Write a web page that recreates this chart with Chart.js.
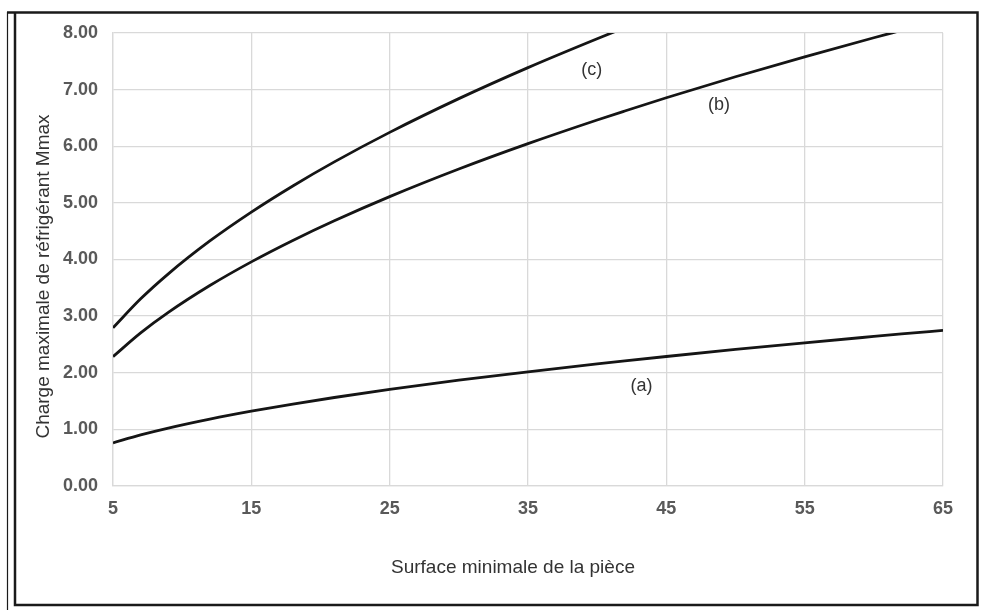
<!DOCTYPE html>
<html>
<head>
<meta charset="utf-8">
<script src="https://cdn.jsdelivr.net/npm/chart.js@4.4.1/dist/chart.umd.min.js"></script>
<style>
  html, body { margin: 0; padding: 0; background: #ffffff; }
  #wrap { width: 981px; height: 610px; position: relative; }
</style>
</head>
<body>
<div id="wrap"><canvas id="c"></canvas></div>
<script>
// Surface minimale de la pièce (x values)
const surfaces = [5, 7, 9, 12, 15, 18, 21, 25, 30, 35, 40, 42, 45, 50, 55, 60, 62, 65];
// Curve (a)
const seriesA = [0.762, 0.902, 1.023, 1.181, 1.321, 1.447, 1.563, 1.705, 1.868, 2.017, 2.157, 2.210, 2.287, 2.411, 2.529, 2.641, 2.685, 2.749];
// Curve (b)
const seriesB = [2.285, 2.704, 3.066, 3.540, 3.958, 4.336, 4.683, 5.110, 5.598, 6.046, 6.464, 6.623, 6.856, 7.227, 7.579, 7.916, 8.047, null];
// Curve (c)
const seriesC = [2.793, 3.305, 3.747, 4.327, 4.837, 5.299, 5.724, 6.245, 6.841, 7.389, 7.899, 8.095, null, null, null, null, null, null];
// Curve labels and their positions (data coordinates)
const curveLabels = ['(a)', '(b)', '(c)'];
const labelX = [43.2, 48.8, 39.6];
const labelY = [1.77, 6.73, 7.34];
// Axis ticks and titles
const xTicks = [5, 15, 25, 35, 45, 55, 65];
const yTicks = [0, 1, 2, 3, 4, 5, 6, 7, 8];
const xTitle = 'Surface minimale de la pièce';
const yTitle = 'Charge maximale de réfrigérant Mmax';

const FONT = '"Liberation Sans", Arial, sans-serif';

function toPoints(ys) {
  const pts = [];
  surfaces.forEach((x, i) => { if (ys[i] !== null) pts.push({ x: x, y: ys[i] }); });
  return pts;
}

const frameAndLabels = {
  id: 'frameAndLabels',
  beforeDraw(chart) {
    const ctx = chart.ctx;
    ctx.save();
    ctx.fillStyle = '#ffffff';
    ctx.fillRect(0, 0, chart.width, chart.height);
    ctx.strokeStyle = '#1a1a1a';
    ctx.lineWidth = 1.2;
    ctx.beginPath();
    ctx.moveTo(7.5, 12);
    ctx.lineTo(7.5, 610);
    ctx.stroke();
    ctx.lineWidth = 2.5;
    ctx.beginPath();
    ctx.moveTo(7, 12.5);
    ctx.lineTo(977.5, 12.5);
    ctx.lineTo(977.5, 605);
    ctx.lineTo(15, 605);
    ctx.lineTo(15, 12.5);
    ctx.stroke();
    ctx.restore();
  },
  afterDatasetsDraw(chart) {
    const ctx = chart.ctx;
    const xs = chart.scales.x, ys = chart.scales.y;
    const area = chart.chartArea;
    ctx.save();
    ctx.fillStyle = '#333333';
    ctx.textAlign = 'center';
    ctx.textBaseline = 'middle';
    ctx.font = '18px ' + FONT;
    curveLabels.forEach((t, i) => {
      ctx.fillText(t, xs.getPixelForValue(labelX[i]), ys.getPixelForValue(labelY[i]));
    });
    // axis titles
    ctx.font = '19px ' + FONT;
    ctx.fillText(xTitle, (area.left + area.right) / 2 - 15, area.bottom + 82);
    ctx.translate(area.left - 69, (area.top + area.bottom) / 2 + 17);
    ctx.rotate(-Math.PI / 2);
    ctx.fillText(yTitle, 0, 0);
    ctx.restore();
  }
};

const lineStyle = {
  borderColor: '#151515',
  backgroundColor: '#151515',
  borderWidth: 2.8,
  pointRadius: 0,
  pointHoverRadius: 0,
  showLine: true,
  fill: false,
  cubicInterpolationMode: 'monotone'
};

new Chart(document.getElementById('c'), {
  type: 'scatter',
  data: {
    datasets: [
      Object.assign({ label: '(a)', data: toPoints(seriesA) }, lineStyle),
      Object.assign({ label: '(b)', data: toPoints(seriesB) }, lineStyle),
      Object.assign({ label: '(c)', data: toPoints(seriesC) }, lineStyle)
    ]
  },
  options: {
    responsive: true,
    maintainAspectRatio: false,
    animation: false,
    events: [],
    layout: { padding: { left: 16, right: 38, top: 33, bottom: 0 } },
    plugins: {
      legend: { display: false },
      tooltip: { enabled: false }
    },
    scales: {
      x: {
        type: 'linear',
        min: 5,
        max: 65,
        afterFit(scale) { scale.height = 124; },
        afterBuildTicks(scale) { scale.ticks = xTicks.map(v => ({ value: v })); },
        grid: { color: '#d9d9d9', lineWidth: 1.3, drawTicks: false },
        border: { color: '#d9d9d9', width: 1.3 },
        ticks: {
          padding: 12,
          color: '#595959',
          font: { family: FONT, size: 18, weight: 'bold' },
          callback: v => String(v),
          maxRotation: 0
        }
      },
      y: {
        type: 'linear',
        min: 0,
        max: 8,
        afterFit(scale) { scale.width = 97; },
        afterBuildTicks(scale) { scale.ticks = yTicks.map(v => ({ value: v })); },
        grid: { color: '#d9d9d9', lineWidth: 1.3, drawTicks: false },
        border: { color: '#d9d9d9', width: 1.3 },
        ticks: {
          padding: 15,
          color: '#595959',
          font: { family: FONT, size: 18, weight: 'bold' },
          callback: v => Number(v).toFixed(2)
        }
      }
    }
  },
  plugins: [frameAndLabels]
});
</script>
</body>
</html>
